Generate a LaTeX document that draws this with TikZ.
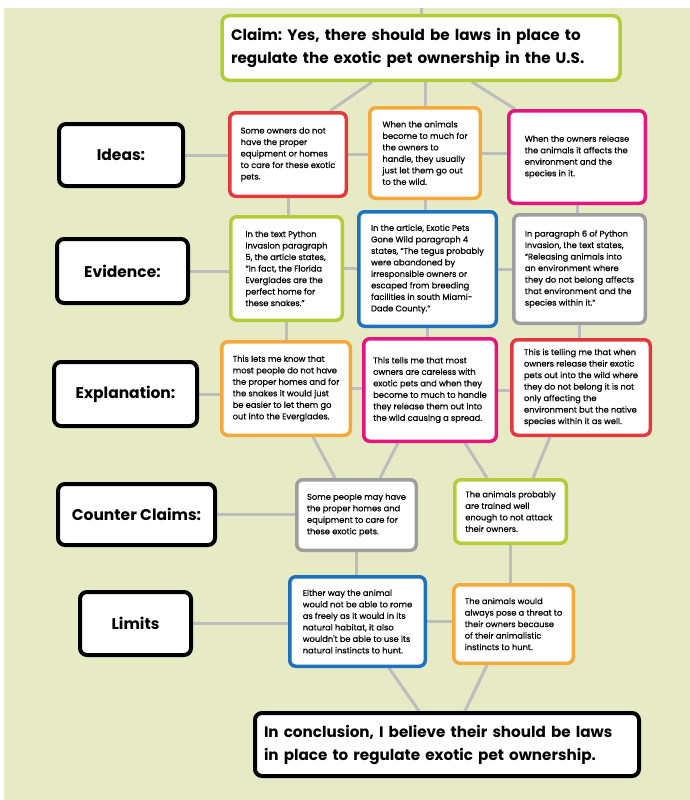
\documentclass[tikz,border=0pt]{standalone}
\usepackage{fontspec}
\setmainfont{Poppins}
\newfontfamily\smallfam{Poppins}[FakeBold=0.6]
\usetikzlibrary{calc}
\definecolor{bgc}{HTML}{E6EBC6}
\definecolor{lineg}{HTML}{BDBDBD}
\definecolor{cgreen}{HTML}{B4CC38}
\definecolor{cred}{HTML}{E2393F}
\definecolor{corange}{HTML}{F4A93B}
\definecolor{cmag}{HTML}{E5157F}
\definecolor{cblue}{HTML}{1D72BE}
\definecolor{cgrey}{HTML}{9E9E9E}
\pgfdeclarelayer{bg}
\pgfdeclarelayer{lines}
\pgfsetlayers{bg,lines,main}
\frenchspacing
\newcommand\smalltxt{\smallfam\fontsize{8.3}{11.5}\selectfont}
\newcommand\labtxt{\fontsize{15.5}{18}\selectfont\bfseries}
\newcommand\bigtxt{\fontsize{15.2}{23}\selectfont\bfseries}
\begin{document}
\begin{tikzpicture}[x=1pt,y=-1pt,
  sbox/.style={draw=#1, line width=3.5pt, rounded corners=6pt, fill=white, align=left, font=\smalltxt, inner sep=0pt},
  lbox/.style={draw=black, line width=4pt, rounded corners=7pt, fill=white, align=center, font=\labtxt, inner sep=0pt},
  bbox/.style={draw=#1, rounded corners=7pt, fill=white, align=left, font=\bigtxt, inner xsep=9pt, inner ysep=0pt},
  conn/.style={draw=lineg, line width=3pt},
]
\path[use as bounding box] (0,0) rectangle (690,800);
\begin{pgfonlayer}{bg}
\fill[white] (0,0) rectangle (690,800);
\fill[bgc] (4,8) rectangle (690,800);
\end{pgfonlayer}
\coordinate (top) at (421,8);

% claim and conclusion
\node[bbox=cgreen, line width=3.5pt, text width=380pt, minimum height=64.5pt] (cl) at (421,48)
  {Claim: Yes, there should be laws in place to\\regulate the exotic pet ownership in the U.S.};
\node[bbox=black, line width=4pt, text width=366pt, minimum height=63pt] (co) at (447,744.5)
  {In conclusion, I believe their should be laws\\in place to regulate exotic pet ownership.};

% labels
\node[lbox, minimum width=124pt, minimum height=62pt] (l1) at (121,155) {Ideas:};
\node[lbox, minimum width=131pt, minimum height=64pt] (l2) at (122.5,271) {Evidence:};
\node[lbox, minimum width=143pt, minimum height=64pt] (l3) at (125.5,394) {Explanation:};
\node[lbox, minimum width=157pt, minimum height=61pt] (l4) at (136.5,514.5) {Counter Claims:};
\node[lbox, minimum width=111pt, minimum height=63pt] (l5) at (135.5,623.5) {Limits};

% ideas
\node[sbox=cred, minimum width=116.5pt, minimum height=83.5pt] (i1) at (288,154.5)
  {Some owners do not\\have the proper\\equipment or homes\\to care for these exotic\\pets.};
\node[sbox=corange, minimum width=110.5pt, minimum height=90.5pt] (i2) at (425,153)
  {When the animals\\become to much for\\the owners to\\handle, they usually\\just let them go out\\to the wild.};
\node[sbox=cmag, minimum width=136.5pt, minimum height=92.5pt] (i3) at (577,157)
  {When the owners release\\the animals it affects the\\environment and the\\species in it.};

% evidence
\node[sbox=cgreen, minimum width=111.5pt, minimum height=103.5pt] (v1) at (286.5,268.5)
  {In the text Python\\Invasion paragraph\\5, the article states,\\“In fact, the Florida\\Everglades are the\\perfect home for\\these snakes.”};
\node[sbox=cblue, minimum width=137.5pt, minimum height=114.5pt] (v2) at (427.5,269)
  {In the article, Exotic Pets\\Gone Wild paragraph 4\\states, “The tegus probably\\were abandoned by\\irresponsible owners or\\escaped from breeding\\facilities in south Miami-\\Dade County.”};
\node[sbox=cgrey, minimum width=131.5pt, minimum height=108.5pt] (v3) at (579.5,269)
  {In paragraph 6 of Python\\Invasion, the text states,\\“Releasing animals into\\an environment where\\they do not belong affects\\that environment and the\\species within it.”};

% explanation
\node[sbox=corange, minimum width=128.5pt, minimum height=93.5pt] (e1) at (286,388.5)
  {This lets me know that\\most people do not have\\the proper homes and for\\the snakes it would just\\be easier to let them go\\out into the Everglades.};
\node[sbox=cmag, minimum width=132.5pt, minimum height=102.5pt] (e2) at (430,390)
  {This tells me that most\\owners are careless with\\exotic pets and when they\\become to much to handle\\they release them out into\\the wild causing a spread.};
\node[sbox=cred, minimum width=138.5pt, minimum height=95.5pt] (e3) at (581,387.5)
  {This is telling me that when\\owners release their exotic\\pets out into the wild where\\they do not belong it is not\\only affecting the\\environment but the native\\species within it as well.};

% counter claims
\node[sbox=cgrey, minimum width=119.5pt, minimum height=70.5pt] (c1) at (356.5,515)
  {Some people may have\\the proper homes and\\equipment to care for\\these exotic pets.};
\node[sbox=cgreen, minimum width=111.5pt, minimum height=63.5pt] (c2) at (510.5,511.5)
  {The animals probably\\are trained well\\enough to not attack\\their owners.};

% limits
\node[sbox=cblue, minimum width=135.5pt, minimum height=89.5pt] (m1) at (357.5,621.5)
  {Either way the animal\\would not be able to rome\\as freely as it would in its\\natural habitat, it also\\wouldn't be able to use its\\natural instincts to hunt.};
\node[sbox=corange, minimum width=119.5pt, minimum height=78.5pt] (m2) at (513.5,624)
  {The animals would\\always pose a threat to\\their owners because\\of their animalistic\\instincts to hunt.};

\begin{pgfonlayer}{lines}
\path[conn] (cl.north) -- (cl.north |- top);
\path[conn] ([xshift=-49pt]cl.south) -- ([xshift=42pt]i1.north);
\path[conn] (cl.south -| i2.north) -- (i2.north);
\path[conn] ([xshift=51pt]cl.south) -- ([xshift=-62pt]i3.north);
% rows
\path[conn] (l1.east) -- (l1.east -| i1.west);
\path[conn] (i1.east) -- (i1.east -| i2.west);
\path[conn] (i2.east) -- (i2.east -| i3.west);
\path[conn] (l2.east) -- (l2.east -| v1.west);
\path[conn] (v1.east) -- (v1.east -| v2.west);
\path[conn] (v2.east) -- (v2.east -| v3.west);
\path[conn] (l3.east) -- (l3.east -| e1.west);
\path[conn] (e1.east) -- (e1.east -| e2.west);
\path[conn] (e2.east) -- (e2.east -| e3.west);
\path[conn] (l4.east) -- (l4.east -| c1.west);
\path[conn] (l5.east) -- (l5.east -| m1.west);
\path[conn] (m1.east) -- (m1.east -| m2.west);
% columns
\path[conn] (i1.south) -- (i1.south |- v1.north);
\path[conn] (i2.south) -- (i2.south |- v2.north);
\path[conn] (i3.south) -- (i3.south |- v3.north);
\path[conn] (v1.south) -- (v1.south |- e1.north);
\path[conn] (v2.south) -- (v2.south |- e2.north);
\path[conn] (v3.south) -- (v3.south |- e3.north);
\path[conn] ([xshift=27pt]e1.south) -- ([xshift=-21.5pt]c1.north);
\path[conn] ([xshift=-32pt]e2.south) -- ([xshift=23.5pt]c1.north);
\path[conn] ([xshift=35pt]e2.south) -- ([xshift=-23.5pt]c2.north);
\path[conn] ([xshift=-31pt]e3.south) -- ([xshift=22.5pt]c2.north);
\path[conn] (c1.south) -- (c1.south |- m1.north);
\path[conn] (c2.south) -- (c2.south |- m2.north);
\path[conn] ([xshift=31.5pt]m1.south) -- ([xshift=-28pt]co.north);
\path[conn] ([xshift=-26.5pt]m2.south) -- ([xshift=18pt]co.north);
\end{pgfonlayer}
\end{tikzpicture}
\end{document}
